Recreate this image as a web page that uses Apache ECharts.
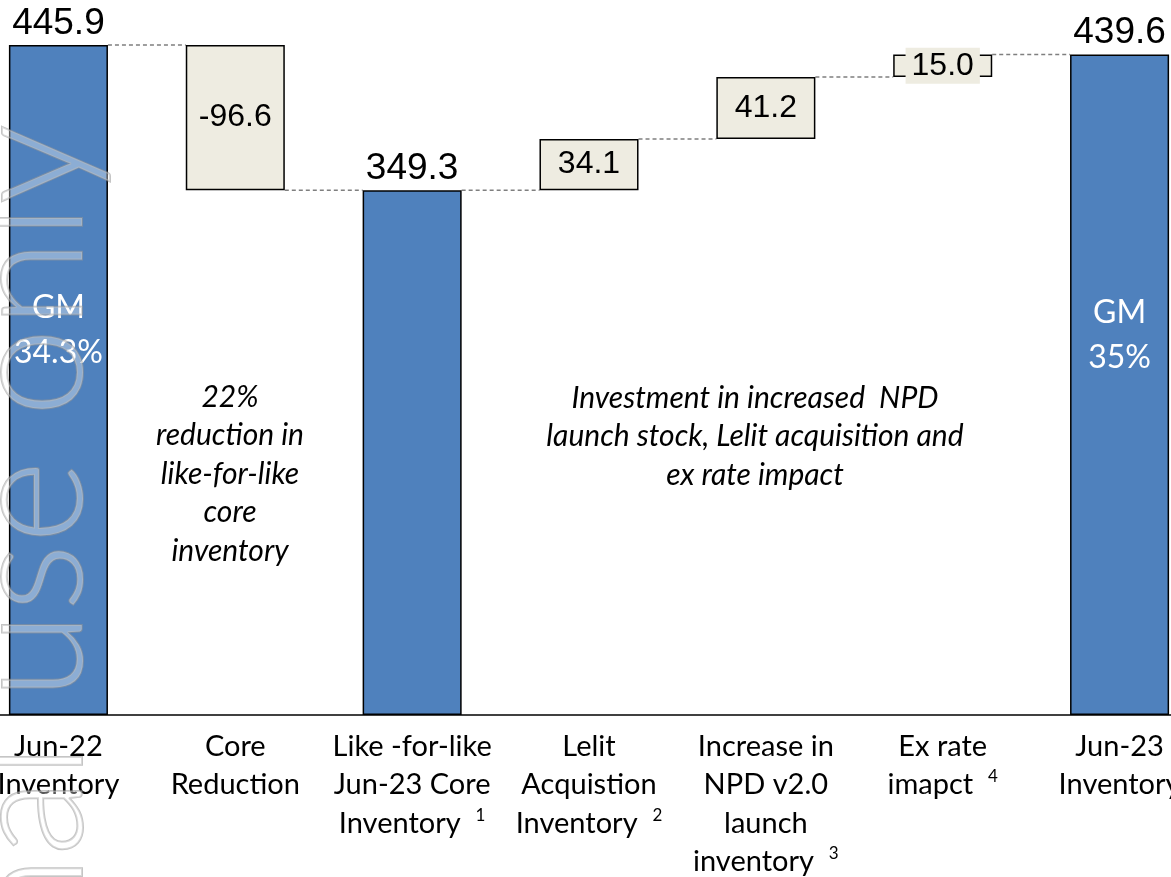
<!DOCTYPE html>
<html>
<head>
<meta charset="utf-8">
<script src="https://cdn.jsdelivr.net/npm/echarts@6/dist/echarts.min.js"></script>
<style>
  html, body { margin: 0; padding: 0; background: #fff; }
  #chart { width: 1171px; height: 877px; }
</style>
</head>
<body>
<div id="chart"></div>
<script>
// categories of the bridge
var categories = ['Jun-22\nInventory', 'Core\nReduction', 'Like -for-like\nJun-23 Core\nInventory',
  'Lelit\nAcquistion\nInventory', 'Increase in\nNPD v2.0\nlaunch\ninventory', 'Ex rate\nimapct', 'Jun-23\nInventory'];
var footnotes = ['', '', '1', '2', '3', '4', ''];
// totals (blue bars) and movements (beige boxes)
var totals = [445.9, null, 349.3, null, null, null, 439.6];
var changes = [null, -96.6, null, 34.1, 41.2, 15.0, null];
var gmLabels = ['34.3%', null, null, null, null, null, '35%'];

// build the invisible base and the connector levels
var base = [], changeVals = [], levels = [];
var running = 0;
for (var i = 0; i < categories.length; i++) {
  if (totals[i] != null) {
    base.push(0);
    changeVals.push('-');
    running = totals[i];
  } else {
    var c = changes[i];
    base.push(c < 0 ? running + c : running);
    changeVals.push(Math.abs(c));
    running = running + c;
  }
  if (i < categories.length - 1) levels.push([i, running]);
}

var barW = 0.56;
var chart = echarts.init(document.getElementById('chart'));

var option = {
  animation: false,
  grid: { left: -30, right: -37, top: 8.8, bottom: 162, outerBoundsMode: 'none', containLabel: false },
  xAxis: {
    type: 'category',
    data: categories,
    axisLine: { lineStyle: { color: '#000', width: 1.5 } },
    axisTick: { show: false },
    axisLabel: {
      interval: 0,
      margin: 12,
      color: '#000',
      fontFamily: 'Lato',
      fontSize: 29,
      lineHeight: 38.5,
      formatter: function (value, idx) {
        return footnotes[idx] ? value + '  {sup|' + footnotes[idx] + '}' : value;
      },
      rich: {
        sup: { fontFamily: 'Lato', fontSize: 17, color: '#000', verticalAlign: 'top', padding: [3, 0, 0, 0] }
      }
    }
  },
  yAxis: { type: 'value', min: 0, max: 470, show: false },
  series: [
    {
      name: 'base', type: 'bar', stack: 'wf', barWidth: barW * 100 + '%', barGap: '-100%',
      silent: true,
      itemStyle: { color: 'rgba(0,0,0,0)' },
      data: base
    },
    {
      name: 'total', type: 'bar', stack: 'wf', barWidth: barW * 100 + '%', barGap: '-100%',
      itemStyle: { color: '#4F81BD', borderColor: '#000', borderWidth: 1.5 },
      label: {
        show: true, position: 'top', distance: 3,
        fontFamily: 'Liberation Sans', fontSize: 37, color: '#000',
        formatter: function (p) { return p.value.toFixed(1); }
      },
      data: totals.map(function (v) { return v == null ? '-' : v; })
    },
    {
      name: 'change', type: 'bar', stack: 'wf', barWidth: barW * 100 + '%', barGap: '-100%',
      itemStyle: { color: '#EEECE1', borderColor: '#000', borderWidth: 1.5 },
      label: {
        show: true, position: 'inside',
        fontFamily: 'Liberation Sans', fontSize: 32, color: '#000',
        backgroundColor: '#EEECE1', padding: [2, 6],
        formatter: function (p) { return changes[p.dataIndex].toFixed(1); }
      },
      data: changeVals
    },
    {
      name: 'gm', type: 'bar', barWidth: barW * 100 + '%', barGap: '-100%',
      silent: true,
      itemStyle: { color: 'rgba(0,0,0,0)' },
      label: {
        show: true, position: 'inside', offset: [0, -50],
        fontFamily: 'Lato', fontSize: 32, lineHeight: 45, color: '#fff',
        formatter: function (p) { return gmLabels[p.dataIndex] ? 'GM\n' + gmLabels[p.dataIndex] : ''; }
      },
      data: totals.map(function (v, k) { return gmLabels[k] ? v : '-'; })
    },
    {
      name: 'connector', type: 'custom', z: 1, silent: true,
      data: levels,
      renderItem: function (params, api) {
        var idx = api.value(0), v = api.value(1);
        var p1 = api.coord([idx, v]);
        var p2 = api.coord([idx + 1, v]);
        var hw = api.size([1, 0])[0] * barW / 2;
        return {
          type: 'line',
          shape: { x1: p1[0] + hw, y1: p1[1], x2: p2[0] - hw, y2: p2[1] },
          style: { stroke: '#7f7f7f', lineWidth: 1.5, lineDash: [4, 3] }
        };
      }
    }
  ],
  graphic: [
    {
      type: 'text', x: 230, y: 378, z: 10,
      style: {
        text: '22%\nreduction in\nlike-for-like\ncore\ninventory',
        align: 'center', verticalAlign: 'top',
        fontFamily: 'Lato', fontStyle: 'italic', fontSize: 30, lineHeight: 38.5, fill: '#000'
      }
    },
    {
      type: 'text', x: 755, y: 379, z: 10,
      style: {
        text: 'Investment in increased  NPD\nlaunch stock, Lelit acquisition and\nex rate impact',
        align: 'center', verticalAlign: 'top',
        fontFamily: 'Lato', fontStyle: 'italic', fontSize: 30, lineHeight: 38.5, fill: '#000'
      }
    },
    {
      type: 'text', x: 110, y: 124, rotation: Math.PI / 2, z: 100, silent: true,
      style: {
        text: 'Internal use only',
        align: 'right', verticalAlign: 'bottom',
        fontFamily: 'Lato', fontWeight: 300, fontSize: 160,
        fill: 'rgba(255,255,255,0.35)', stroke: 'rgba(150,150,150,0.55)', lineWidth: 2
      }
    }
  ]
};

chart.setOption(option);
</script>
</body>
</html>
